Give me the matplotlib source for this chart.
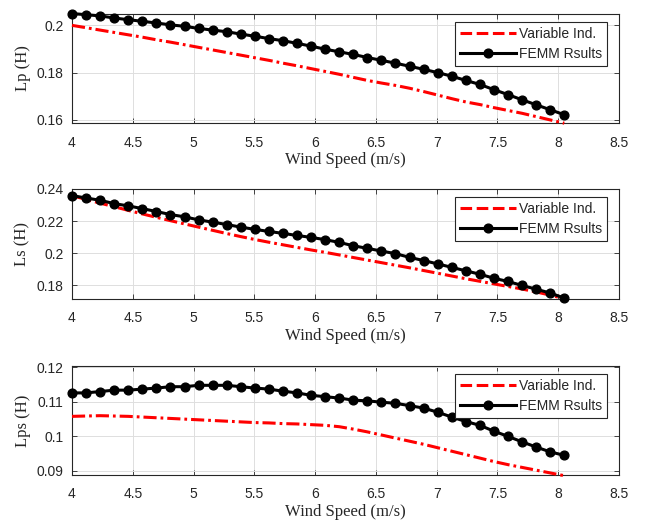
import numpy as np
import matplotlib
matplotlib.use("Agg")
import matplotlib.pyplot as plt
from matplotlib.lines import Line2D
from matplotlib.ticker import FuncFormatter

# Wind speed samples (m/s)
wind_speed = [4.000, 4.116, 4.231, 4.347, 4.463, 4.579, 4.694, 4.810, 4.926,
              5.041, 5.157, 5.273, 5.389, 5.504, 5.620, 5.736, 5.851, 5.967,
              6.083, 6.199, 6.314, 6.430, 6.546, 6.661, 6.777, 6.893, 7.009,
              7.124, 7.240, 7.356, 7.471, 7.587, 7.703, 7.819, 7.934, 8.050]

# Primary inductance Lp (H)
lp_femm = [0.2050, 0.2045, 0.2040, 0.2031, 0.2024, 0.2017, 0.2010, 0.2002, 0.1996,
           0.1987, 0.1980, 0.1973, 0.1963, 0.1954, 0.1944, 0.1935, 0.1924, 0.1912,
           0.1899, 0.1888, 0.1877, 0.1864, 0.1852, 0.1840, 0.1827, 0.1814, 0.1800,
           0.1785, 0.1767, 0.1750, 0.1728, 0.1707, 0.1685, 0.1664, 0.1643, 0.1622]
lp_var = [0.2000, 0.1990, 0.1980, 0.1970, 0.1960, 0.1950, 0.1939, 0.1929, 0.1918,
          0.1907, 0.1896, 0.1885, 0.1874, 0.1863, 0.1852, 0.1840, 0.1829, 0.1817,
          0.1805, 0.1793, 0.1780, 0.1767, 0.1756, 0.1746, 0.1734, 0.1720, 0.1705,
          0.1690, 0.1676, 0.1665, 0.1652, 0.1640, 0.1628, 0.1614, 0.1600, 0.1586]

# Secondary inductance Ls (H)
ls_femm = [0.2359, 0.2344, 0.2330, 0.2309, 0.2295, 0.2278, 0.2260, 0.2241, 0.2227,
           0.2208, 0.2194, 0.2179, 0.2163, 0.2149, 0.2136, 0.2124, 0.2111, 0.2099,
           0.2085, 0.2068, 0.2047, 0.2031, 0.2014, 0.1998, 0.1975, 0.1955, 0.1934,
           0.1913, 0.1891, 0.1870, 0.1845, 0.1825, 0.1800, 0.1777, 0.1753, 0.1722]
ls_var = [0.2359, 0.2335, 0.2312, 0.2290, 0.2267, 0.2245, 0.2224, 0.2203, 0.2183,
          0.2163, 0.2143, 0.2123, 0.2104, 0.2086, 0.2069, 0.2053, 0.2037, 0.2021,
          0.2006, 0.1990, 0.1974, 0.1958, 0.1942, 0.1926, 0.1910, 0.1893, 0.1876,
          0.1859, 0.1842, 0.1826, 0.1810, 0.1794, 0.1778, 0.1760, 0.1740, 0.1718]

# Mutual inductance Lps (H)
lps_femm = [0.1126, 0.1126, 0.1130, 0.1134, 0.1134, 0.1137, 0.1140, 0.1144, 0.1144,
            0.1148, 0.1148, 0.1148, 0.1144, 0.1140, 0.1137, 0.1131, 0.1126, 0.1119,
            0.1115, 0.1111, 0.1105, 0.1103, 0.1099, 0.1096, 0.1089, 0.1082, 0.1070,
            0.1056, 0.1043, 0.1032, 0.1015, 0.1000, 0.0984, 0.0969, 0.0955, 0.0945]
lps_var = [0.1058, 0.1059, 0.1060, 0.1059, 0.1058, 0.1056, 0.1054, 0.1052, 0.1050,
           0.1048, 0.1046, 0.1044, 0.1042, 0.1040, 0.1039, 0.1037, 0.1036, 0.1034,
           0.1032, 0.1028, 0.1021, 0.1013, 0.1004, 0.0995, 0.0986, 0.0977, 0.0967,
           0.0957, 0.0947, 0.0937, 0.0927, 0.0918, 0.0910, 0.0902, 0.0894, 0.0886]

ylabels = ["Lp (H)", "Ls (H)", "Lps (H)"]
yticks = [[0.16, 0.18, 0.2], [0.18, 0.2, 0.22, 0.24], [0.09, 0.1, 0.11, 0.12]]
ylims = [(0.1587, 0.2048), (0.1716, 0.2400), (0.0888, 0.1204)]
xticks = [4, 4.5, 5, 5.5, 6, 6.5, 7, 7.5, 8, 8.5]
legend_labels = ["Variable Ind.", "FEMM Rsults"]

ink = "#262626"
W, H = 648, 530
fig = plt.figure(figsize=(W / 100, H / 100), dpi=100)

# axes boxes in pixels: (left, top, right, bottom)
boxes = [(72, 14, 619, 123), (72, 189, 619, 299), (72, 366, 619, 475)]

series = [(lp_var, lp_femm), (ls_var, ls_femm), (lps_var, lps_femm)]
dashdot = (0, (4.3, 1.3, 0.9, 1.3))

for i, (box, (var, femm)) in enumerate(zip(boxes, series)):
    l, t, r, b = box
    ax = fig.add_axes([l / W, 1 - b / H, (r - l) / W, (b - t) / H])
    ax.plot(wind_speed, var, color="#ff0000", lw=2.2, linestyle=dashdot,
            clip_on=False, zorder=3)
    ax.plot(wind_speed, femm, color="black", lw=2.2, marker="o", ms=6.3,
            clip_on=False, zorder=4)
    ax.set_xlim(4, 8.5)
    ax.set_ylim(*ylims[i])
    ax.set_xticks(xticks)
    ax.set_yticks(yticks[i])
    fmt = FuncFormatter(lambda v, p: "%g" % round(v, 4))
    ax.xaxis.set_major_formatter(fmt)
    ax.yaxis.set_major_formatter(fmt)
    ax.grid(True, color="#dedede", lw=0.7)
    ax.set_axisbelow(True)
    ax.tick_params(direction="in", length=3.5, width=0.6, color=ink,
                   top=True, right=True, labelsize=10, labelcolor=ink)
    ax.tick_params(axis="x", pad=9)
    ax.tick_params(axis="y", pad=6)
    for lab in ax.get_xticklabels() + ax.get_yticklabels():
        lab.set_fontfamily("Liberation Sans")
    for sp in ax.spines.values():
        sp.set_color(ink)
        sp.set_linewidth(0.8)
    ax.set_xlabel("Wind Speed (m/s)", fontfamily="Liberation Serif",
                  fontsize=12, color=ink, labelpad=2)
    ax.set_ylabel(ylabels[i], fontfamily="Liberation Serif",
                  fontsize=12, color=ink, labelpad=4)

    handles = [
        Line2D([], [], color="#ff0000", lw=2.2, linestyle=(0, (3.8, 1.5))),
        Line2D([], [], color="black", lw=2.2, marker="o", ms=6.3),
    ]
    leg = ax.legend(handles, legend_labels, loc="upper right",
                    bbox_to_anchor=(1 - 12 / (r - l), 1 - 8 / (b - t)),
                    borderaxespad=0, fancybox=False, framealpha=1,
                    edgecolor=ink, handlelength=4.0, handletextpad=0.25,
                    borderpad=0.35, labelspacing=0.45, numpoints=1,
                    prop={"family": "Liberation Sans", "size": 10})
    leg.get_frame().set_linewidth(0.8)
    for txt in leg.get_texts():
        txt.set_color(ink)

fig.savefig("out.png", dpi=100)
